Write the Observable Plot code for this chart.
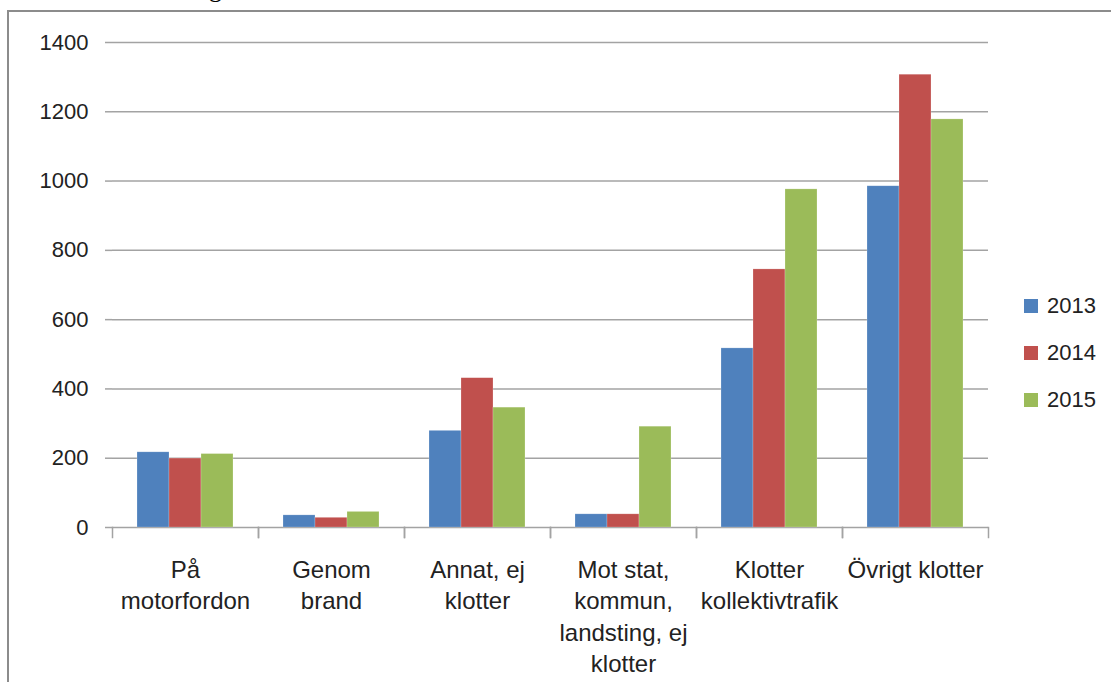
<!DOCTYPE html>
<html>
<head>
<meta charset="utf-8">
<script src="https://cdn.jsdelivr.net/npm/d3@7"></script>
<script src="https://cdn.jsdelivr.net/npm/@observablehq/plot@0.6"></script>
<style>
  html, body { margin: 0; padding: 0; background: #fff; overflow: hidden; }
  #wrap { position: relative; width: 1111px; height: 682px; overflow: hidden; font-family: "Liberation Sans", Arial, sans-serif; }
  #border { position: absolute; left: 7px; top: 10px; width: 1200px; height: 800px; border: 2px solid #8c8c8c; box-sizing: border-box; }
  #cut { position: absolute; left: 209px; top: -24px; font-family: "Liberation Serif", serif; font-size: 26px; line-height: 26px; color: #000; }
  #chart { position: absolute; left: 0; top: 0; }
  #legend { position: absolute; left: 1024px; top: 291px; font-size: 22px; color: #222; }
  .item { display: flex; align-items: center; height: 47px; margin-top: 0; }
  .item:first-child { margin-top: -9px; }
  .sw { width: 14px; height: 14px; margin-right: 9px; }
</style>
</head>
<body>
<div id="wrap">
  <div id="cut">g</div>
  <div id="border"></div>
  <div id="chart"></div>
  <div id="legend"></div>
</div>
<script>
const categories = ["På\nmotorfordon", "Genom\nbrand", "Annat, ej\nklotter", "Mot stat,\nkommun,\nlandsting, ej\nklotter", "Klotter\nkollektivtrafik", "Övrigt klotter"];
const years = ["2013", "2014", "2015"];
const v2013 = [217, 35, 279, 38, 517, 985];
const v2014 = [199, 28, 431, 38, 745, 1307];
const v2015 = [212, 45, 346, 291, 976, 1178];
const colors = ["#4f81bd", "#c0504d", "#9bbb59"];
const yTicks = [0, 200, 400, 600, 800, 1000, 1200, 1400];

const series = [v2013, v2014, v2015];
const data = [];
categories.forEach((c, i) => years.forEach((y, j) => data.push({category: c, year: y, value: series[j][i]})));

const W = 1111, H = 682, mT = 42, mB = 155, mL = 110, mR = 121;
const innerH = H - mT - mB;
const gray = "#a3a3a3";

const chart = Plot.plot({
  width: W, height: H,
  marginTop: mT, marginBottom: mB, marginLeft: mL, marginRight: mR,
  style: {background: "transparent", fontFamily: "Liberation Sans, Arial, sans-serif"},
  fx: {domain: categories, padding: 0, label: null},
  x: {domain: years, paddingInner: 0, paddingOuter: 0.76, axis: null},
  y: {domain: [0, 1400], label: null},
  color: {domain: years, range: colors},
  marks: [
    Plot.gridY(yTicks, {stroke: gray, strokeOpacity: 1, strokeWidth: 1.5}),
    Plot.barY(data, {fx: "category", x: "year", y: "value", fill: "year", inset: 0, stroke: "#fff", strokeOpacity: 0.35, strokeWidth: 0.6}),
    Plot.frame({anchor: "left", insetTop: innerH, insetBottom: -10, stroke: gray, strokeWidth: 1.5}),
    Plot.frame({anchor: "right", insetTop: innerH, insetBottom: -10, stroke: gray, strokeWidth: 1.5}),
    Plot.axisY({ticks: yTicks, tickFormat: d => String(d), tickSize: 7, tickPadding: 17, stroke: gray, strokeWidth: 1.5, fill: "#222", fontSize: 22, label: null, line: true}),
    Plot.axisFx({anchor: "bottom", tickSize: 0, tickPadding: 28, fontSize: 24, lineHeight: 1.31, fill: "#222", label: null})
  ]
});
document.getElementById("chart").appendChild(chart);

const legend = document.getElementById("legend");
years.forEach((y, i) => {
  const it = document.createElement("div");
  it.className = "item";
  const sw = document.createElement("div");
  sw.className = "sw";
  sw.style.background = colors[i];
  const t = document.createElement("span");
  t.textContent = y;
  it.appendChild(sw); it.appendChild(t);
  legend.appendChild(it);
});
</script>
</body>
</html>
